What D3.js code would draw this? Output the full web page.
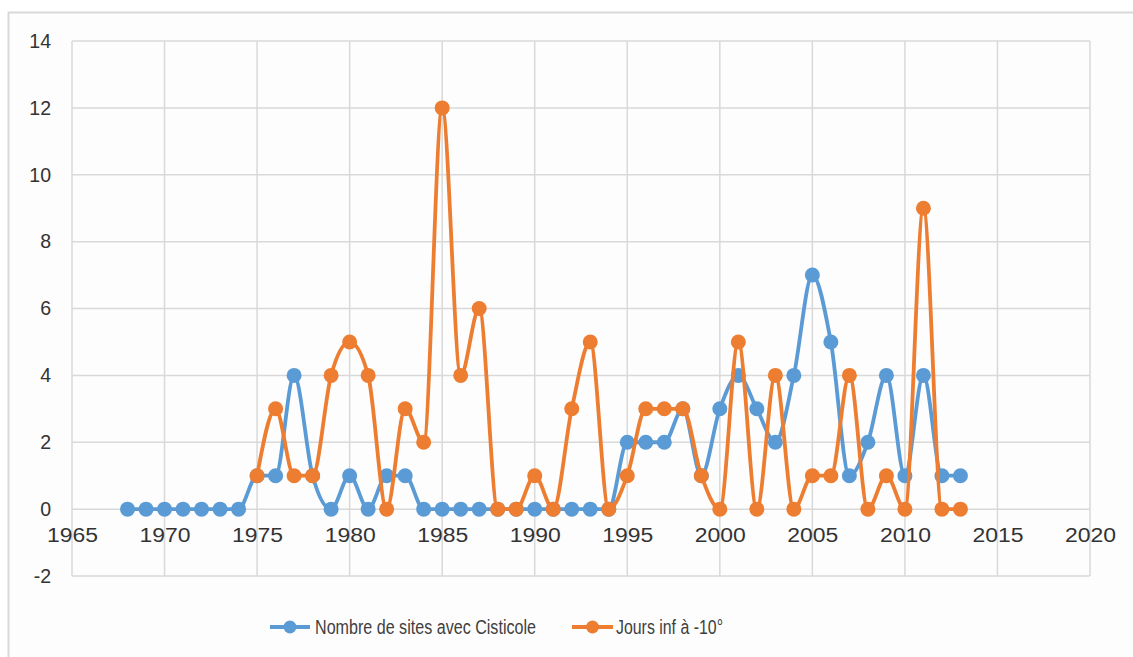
<!DOCTYPE html>
<html><head><meta charset="utf-8">
<script src="https://cdn.jsdelivr.net/npm/d3@7"></script>
<style>
html,body{margin:0;padding:0;background:#fff;}
svg{display:block;}
</style></head>
<body>
<svg id="chart" width="1133" height="657"></svg>
<script>
const yearsSites = [1968,1969,1970,1971,1972,1973,1974,1975,1976,1977,1978,1979,1980,1981,1982,1983,1984,1985,1986,1987,1988,1989,1990,1991,1992,1993,1994,1995,1996,1997,1998,1999,2000,2001,2002,2003,2004,2005,2006,2007,2008,2009,2010,2011,2012,2013];
const sitesValues = [0,0,0,0,0,0,0,1,1,4,1,0,1,0,1,1,0,0,0,0,0,0,0,0,0,0,0,2,2,2,3,1,3,4,3,2,4,7,5,1,2,4,1,4,1,1];
const yearsJours = [1975,1976,1977,1978,1979,1980,1981,1982,1983,1984,1985,1986,1987,1988,1989,1990,1991,1992,1993,1994,1995,1996,1997,1998,1999,2000,2001,2002,2003,2004,2005,2006,2007,2008,2009,2010,2011,2012,2013];
const joursValues = [1,3,1,1,4,5,4,0,3,2,12,4,6,0,0,1,0,3,5,0,1,3,3,3,1,0,5,0,4,0,1,1,4,0,1,0,9,0,0];
const xTicks = [1965,1970,1975,1980,1985,1990,1995,2000,2005,2010,2015,2020];
const yTicks = [-2,0,2,4,6,8,10,12,14];
const seriesNames = ["Nombre de sites avec  Cisticole", "Jours inf à -10°"];
const colors = ["#5B9BD5", "#ED7D31"];

const svg = d3.select("#chart");
svg.append("rect").attr("x",8.5).attr("y",12.5).attr("width",1140).attr("height",660)
  .attr("fill","#fdfdfd").attr("stroke","#d9d9d9").attr("stroke-width",2);

const L = 72, R = 1090, T = 41, B = 576;
const x = d3.scaleLinear().domain([1965,2020]).range([L,R]);
const y = d3.scaleLinear().domain([-2,14]).range([B,T]);

const grid = svg.append("g");
grid.selectAll("line.h").data(yTicks).join("line")
  .attr("x1",L).attr("x2",R).attr("y1",d=>y(d)).attr("y2",d=>y(d))
  .attr("stroke","#d9d9d9").attr("stroke-width",1.5);
grid.selectAll("line.v").data(xTicks).join("line")
  .attr("y1",T).attr("y2",B).attr("x1",d=>x(d)).attr("x2",d=>x(d))
  .attr("stroke","#d9d9d9").attr("stroke-width",1.5);

const tickFont = "'Liberation Sans', sans-serif";
const yAxis = d3.axisLeft(y).tickValues(yTicks).tickSize(0).tickPadding(21)
  .tickFormat(d => d < 0 ? "-" + Math.abs(d) : d);
const gy = svg.append("g").attr("transform",`translate(${L},0)`).call(yAxis);
gy.select(".domain").remove();
gy.attr("font-family", tickFont).attr("font-size",19.5);
gy.selectAll("text").attr("fill","#333");

const xAxis = d3.axisBottom(x).tickValues(xTicks).tickSize(0).tickPadding(19).tickFormat(d3.format("d"));
const gx = svg.append("g").attr("transform",`translate(0,${y(0)})`).call(xAxis);
gx.select(".domain").remove();
gx.attr("font-family", tickFont).attr("font-size",19.5);
gx.selectAll("text").attr("fill","#333").attr("textLength",51).attr("lengthAdjust","spacingAndGlyphs");

const line = d3.line().x(d=>x(d[0])).y(d=>y(d[1])).curve(d3.curveMonotoneX);
const series = [
  d3.zip(yearsSites, sitesValues),
  d3.zip(yearsJours, joursValues)
];
series.forEach((s,i)=>{
  const g = svg.append("g");
  g.append("path").datum(s).attr("d",line).attr("fill","none")
    .attr("stroke",colors[i]).attr("stroke-width",3.8).attr("stroke-linejoin","round");
  g.selectAll("circle").data(s).join("circle")
    .attr("cx",d=>x(d[0])).attr("cy",d=>y(d[1])).attr("r",7.5).attr("fill",colors[i]);
});

const leg = [
  {x1:270, x2:310, tx:315, tw:221},
  {x1:572, x2:613, tx:616, tw:107}
];
const ly = 627;
leg.forEach((l,i)=>{
  svg.append("line").attr("x1",l.x1).attr("x2",l.x2).attr("y1",ly).attr("y2",ly)
    .attr("stroke",colors[i]).attr("stroke-width",3.8);
  svg.append("circle").attr("cx",(l.x1+l.x2)/2).attr("cy",ly).attr("r",6.5).attr("fill",colors[i]);
  svg.append("text").attr("x",l.tx).attr("y",ly+7).text(seriesNames[i])
    .attr("font-family","'Liberation Sans', sans-serif").attr("font-size",20).attr("fill","#404040")
    .attr("textLength",l.tw).attr("lengthAdjust","spacingAndGlyphs");
});
</script>
</body></html>
